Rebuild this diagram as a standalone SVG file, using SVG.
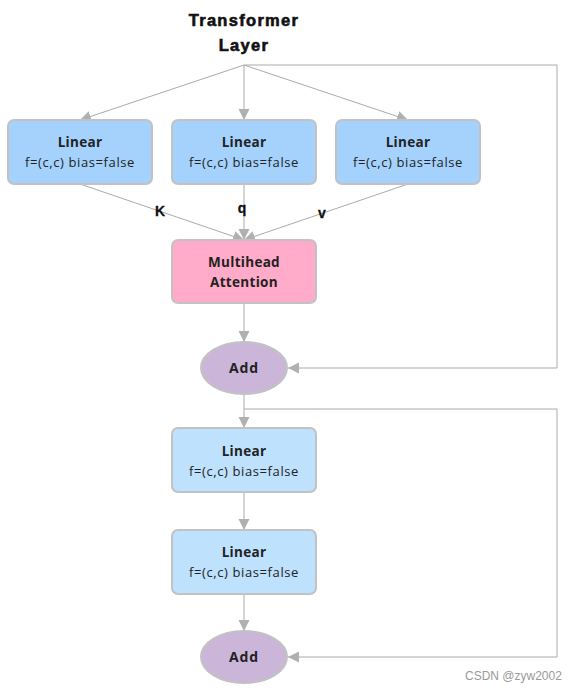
<svg xmlns="http://www.w3.org/2000/svg" width="579" height="693" viewBox="0 0 579 693">
<defs>
<style>
.title{font-family:"Liberation Sans",Arial,sans-serif;font-weight:900;font-size:16.5px;letter-spacing:1.3px;fill:#111;text-anchor:middle;stroke:#111;stroke-width:0.6}
.h{font-family:"Open Sans","Noto Sans",sans-serif;font-weight:bold;font-size:13.5px;letter-spacing:0.3px;fill:#222;text-anchor:middle}
.s{font-family:"Open Sans","Noto Sans",sans-serif;font-size:13px;letter-spacing:0.6px;fill:#222;text-anchor:middle}
.lbl{font-family:"Liberation Sans",Arial,sans-serif;font-weight:bold;font-size:14px;fill:#111;text-anchor:middle;stroke:#111;stroke-width:0.3}
.box{stroke:#c2c2c2;stroke-width:2}
.c{fill:none;stroke:#aaaaaa;stroke-width:1}
.wm{font-family:"Liberation Sans",Arial,sans-serif;font-size:12px;fill:#999}
</style>
<marker id="ah" markerUnits="userSpaceOnUse" markerWidth="12" markerHeight="12" viewBox="0 0 12 12" refX="11" refY="6" orient="auto">
<path d="M0,0.5 L11,6 L0,11.5 Z" fill="#b0b0b0"/>
</marker>
</defs>
<rect width="579" height="693" fill="#ffffff"/>
<text class="title" x="244" y="26">Transformer</text>
<text class="title" x="244" y="51">Layer</text>
<g id="connectors">
<line class="c" x1="244" y1="65" x2="80" y2="120" marker-end="url(#ah)"/>
<line class="c" x1="244" y1="65" x2="244" y2="120" marker-end="url(#ah)"/>
<line class="c" x1="244" y1="65" x2="408" y2="120" marker-end="url(#ah)"/>
<polyline class="c" points="244,65 557,65 557,368 288,368" marker-end="url(#ah)"/>
<line class="c" x1="80" y1="184" x2="244" y2="240" marker-end="url(#ah)"/>
<line class="c" x1="244" y1="184" x2="244" y2="240" marker-end="url(#ah)"/>
<line class="c" x1="408" y1="184" x2="244" y2="240" marker-end="url(#ah)"/>
<line class="c" x1="244" y1="303" x2="244" y2="342" marker-end="url(#ah)"/>
<line class="c" x1="244" y1="394" x2="244" y2="428" marker-end="url(#ah)"/>
<polyline class="c" points="244,409 557,409 557,657 288,657" marker-end="url(#ah)"/>
<line class="c" x1="244" y1="492" x2="244" y2="530" marker-end="url(#ah)"/>
<line class="c" x1="244" y1="594" x2="244" y2="631" marker-end="url(#ah)"/>
<text class="lbl" x="160" y="216">K</text>
<text class="lbl" x="242" y="213">q</text>
<text class="lbl" x="322" y="218">v</text>
</g>
<g id="linear-k">
<rect class="box" x="8" y="120" width="144" height="64" rx="6" fill="#a4d2fc"/>
<text class="h" x="80" y="147">Linear</text>
<text class="s" x="80" y="167">f=(c,c) bias=false</text>
</g>
<g id="linear-q">
<rect class="box" x="172" y="120" width="144" height="64" rx="6" fill="#a4d2fc"/>
<text class="h" x="244" y="147">Linear</text>
<text class="s" x="244" y="167">f=(c,c) bias=false</text>
</g>
<g id="linear-v">
<rect class="box" x="336" y="120" width="144" height="64" rx="6" fill="#a4d2fc"/>
<text class="h" x="408" y="147">Linear</text>
<text class="s" x="408" y="167">f=(c,c) bias=false</text>
</g>
<g id="attention">
<rect class="box" x="172" y="240" width="144" height="63" rx="6" fill="#ffabc9"/>
<text class="h" x="244" y="267">Multihead</text>
<text class="h" x="244" y="287">Attention</text>
</g>
<g id="add1">
<ellipse class="box" cx="244" cy="368" rx="43" ry="26" fill="#cbb6da"/>
<text class="h" x="244" y="373" style="font-size:14px;letter-spacing:0.8px">Add</text>
</g>
<g id="linear-4">
<rect class="box" x="172" y="428" width="144" height="64" rx="6" fill="#bee1fd"/>
<text class="h" x="244" y="456">Linear</text>
<text class="s" x="244" y="476">f=(c,c) bias=false</text>
</g>
<g id="linear-5">
<rect class="box" x="172" y="530" width="144" height="64" rx="6" fill="#bee1fd"/>
<text class="h" x="244" y="557">Linear</text>
<text class="s" x="244" y="577">f=(c,c) bias=false</text>
</g>
<g id="add2">
<ellipse class="box" cx="244" cy="657" rx="43" ry="26" fill="#cbb6da"/>
<text class="h" x="244" y="662" style="font-size:14px;letter-spacing:0.8px">Add</text>
</g>
<text class="wm" x="465" y="680">CSDN @zyw2002</text>
</svg>
